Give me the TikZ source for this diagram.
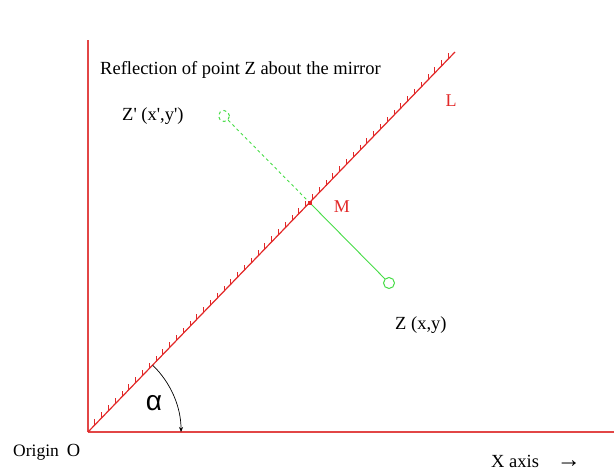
\documentclass[tikz,border=0pt]{standalone}
\usepackage{fontspec}
\setmainfont{Liberation Serif}
\newfontfamily\plainserif{Liberation Serif}
\newfontfamily\alphafont{Liberation Sans}
\usetikzlibrary{arrows.meta,calc}
\definecolor{axisred}{RGB}{226,70,70}
\definecolor{mirrorred}{RGB}{226,40,40}
\definecolor{raygreen}{RGB}{70,220,70}
\tikzset{
  axisline/.style={draw=axisred, line width=1.4pt},
  mirrorline/.style={draw=mirrorred, line width=1.2pt},
  hatch/.style={draw=mirrorred, line width=0.7pt},
  ray/.style={draw=raygreen, line width=0.9pt},
  pointmark/.style={circle, draw=raygreen, line width=1pt, minimum size=11pt, inner sep=0pt},
  lbl/.style={font=\fontsize{18.5}{20}\selectfont, text=black, inner sep=0pt, anchor=west},
  redlbl/.style={font=\fontsize{18}{20}\selectfont, text=mirrorred, inner sep=0pt},
}
\begin{document}
\begin{tikzpicture}[x=1pt,y=1pt]
\useasboundingbox (0,0) rectangle (614,472);
% key points
\coordinate (O) at (88,40);
\coordinate (Ytop) at (88,432);
\coordinate (Xend) at (614,40);
\coordinate (Lend) at (455,420);
\coordinate (M) at (310,269);
\node[pointmark, dashed] (Zp) at (224,356) {};
\node[pointmark] (Z) at (389,189) {};
% axes
\draw[axisline] (O) -- (Ytop);
\draw[axisline] (O) -- (Xend);
% mirror hatching
\foreach \i in {1,...,53} {
  \draw[hatch] (88+6.8*\i, 40+7.04*\i) -- ++(0,5.5);
}
\draw[mirrorline] (O) -- (Lend);
% reflection segment
\draw[ray, dashed] (Zp) -- (M);
\draw[ray] (M) -- (Z);
\fill[mirrorred] ($(M)+(-2.2,-2.2)$) rectangle ($(M)+(2.2,2.2)$);
% angle arc
\draw[black, line width=0.7pt, -{Stealth[length=5pt,width=4pt]}] (88+93*0.695,40+93*0.719) arc[start angle=46, end angle=0, radius=93];
% labels
\node[lbl] (title) at (100,402) {Reflection of point Z about the mirror};
\node[lbl, font=\plainserif\fontsize{18.5}{20}\selectfont] (zplbl) at (122,356) {Z' (x',y')};
\node[redlbl] (Llbl) at (451,371) {L};
\node[redlbl] (Mlbl) at (342,265) {M};
\node[lbl] (zlbl) at (395,147) {Z (x,y)};
\node[font=\alphafont\fontsize{28}{30}\selectfont, inner sep=0pt] (alpha) at (154,69) {α};
\node[lbl] (origin) at (13,20) {{\fontsize{17.5}{19}\selectfont Origin}\hspace{8pt}O};
\node[lbl] (xaxis) at (491,11) {X axis\hspace{18pt}{\fontsize{24}{24}\selectfont →}};
\end{tikzpicture}
\end{document}
